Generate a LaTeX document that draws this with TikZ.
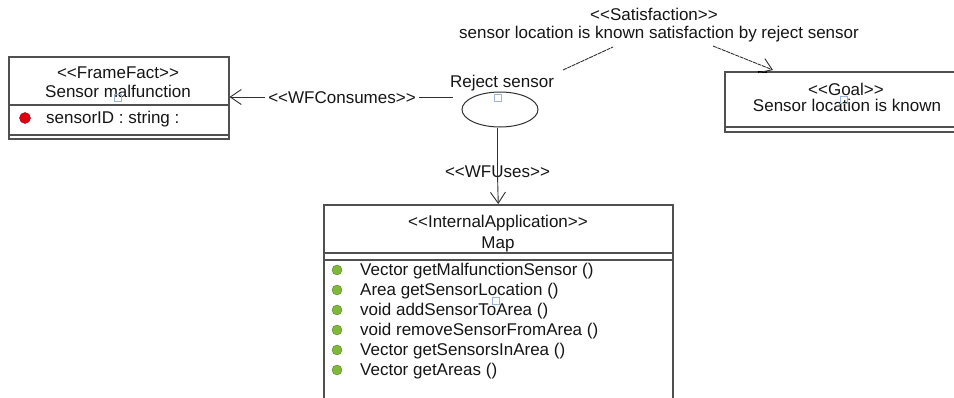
\documentclass[tikz,border=0pt]{standalone}
\usepackage{fontspec}
\setmainfont{Liberation Sans}[Ligatures=TeXOff]
\usetikzlibrary{arrows.meta,shapes.geometric}
\definecolor{boxgray}{HTML}{505050}
\definecolor{linegray}{HTML}{303030}
\definecolor{txt}{HTML}{151515}
\definecolor{selblue}{HTML}{9DB6D6}
\definecolor{dotred}{HTML}{E00010}
\definecolor{dotgreen}{HTML}{80B83A}
\begin{document}
\begin{tikzpicture}[x=1pt,y=-1pt,
  box/.style={draw=boxgray, line width=1.5pt, rectangle, inner sep=0pt, anchor=north west},
  sep/.style={draw=boxgray, line width=1.5pt},
  lbl/.style={font=\fontsize{17}{20}\selectfont, text=txt, inner sep=0pt, anchor=base},
  meth/.style={lbl, anchor=base west},
  conn/.style={draw=linegray, line width=0.9pt},
  satline/.style={draw=linegray, line width=0.9pt, dash pattern=on 4pt off 0.8pt},
  openarrow/.style={-{Straight Barb[length=11pt,width=15pt,line width=0.9pt]}},
  selsq/.style={draw=selblue, line width=0.8pt, minimum size=7pt, inner sep=0pt, rectangle},
  gdot/.style={circle, fill=dotgreen, draw=dotgreen!70!black, line width=0.4pt, minimum size=10pt, inner sep=0pt},
  rdot/.style={circle, fill=dotred, draw=dotred!70!black, line width=0.4pt, minimum size=11pt, inner sep=0pt}]
\useasboundingbox (0,0) rectangle (954,397);
\clip (0,0) rectangle (954,397);

% FrameFact box
\node[box, minimum width=220pt, minimum height=82pt] (ff) at (8,56) {};
\draw[sep] (8,105) -- (228,105);
\draw[sep] (8,135) -- (228,135);
\node[lbl] (ffst) at (118,78) {<<FrameFact>>};
\node[lbl] (ffname) at (118,97) {Sensor malfunction};
\node[rdot] (ffdot) at (25,118) {};
\node[meth] (ffattr) at (46,123) {sensorID : string :};
\node[selsq] (sq1) at (118,98) {};

% Goal box
\node[box, minimum width=240pt, minimum height=60pt] (goal) at (724,71) {};
\draw[sep] (724,127) -- (964,127);
\node[lbl] (goalst) at (846,95) {<<Goal>>};
\node[lbl] (goalname) at (847,111) {Sensor location is known};
\node[selsq] (sq3) at (844,100) {};
\draw[line width=2.5pt, black] (758,72) -- (767,72);

% Map box
\node[box, minimum width=349pt, minimum height=220pt] (map) at (323,204) {};
\draw[sep] (323,253) -- (672,253);
\draw[sep] (323,260) -- (672,260);
\node[lbl] (mapst) at (498,227) {<<InternalApplication>>};
\node[lbl] (mapname) at (498,248) {Map};
\foreach \i/\t in {0/Vector getMalfunctionSensor (),1/Area getSensorLocation (),2/void addSensorToArea (),3/void removeSensorFromArea (),4/Vector getSensorsInArea (),5/Vector getAreas ()}{
  \node[gdot] (gd\i) at (337,{270+20*\i}) {};
  \node[meth] (m\i) at (360,{275+20*\i}) {\t};
}
\node[selsq] (sq4) at (496,301) {};

% Use case
\node[ellipse, draw=linegray, line width=1pt, minimum width=76pt, minimum height=35pt, inner sep=0pt] (ell) at (500,109.5) {};
\node[lbl] (rej) at (502,87) {Reject sensor};
\node[selsq] (sq2) at (498,98) {};

% WFConsumes
\node[lbl, inner xsep=3.5pt] (wfc) at (342,103) {<<WFConsumes>>};
\coordinate (wfcend) at (453,97);
\draw[conn] (wfcend) -- (wfc.east |- wfcend);
\draw[conn, openarrow] (wfc.west |- wfcend) -- (ff.east |- wfcend);

% WFUses
\node[lbl] (wfu) at (497.5,177) {<<WFUses>>};
\draw[conn] (ell.south -| wfu) -- ([yshift=-10pt]wfu.north);
\draw[conn, openarrow] ([yshift=3pt]wfu.south) -- (map.north);

% Satisfaction
\node[lbl] (sat1) at (654,20) {<<Satisfaction>>};
\node[lbl] (sat2) at (659,38) {sensor location is known satisfaction by reject sensor};
\coordinate (sa) at (563,70);
\coordinate (sb) at (613,47);
\coordinate (sc) at (713,46);
\coordinate (sd) at (773,70);
\draw[satline] (sa) -- (sb);
\draw[satline, openarrow] (sc) -- (sd);
\end{tikzpicture}
\end{document}
